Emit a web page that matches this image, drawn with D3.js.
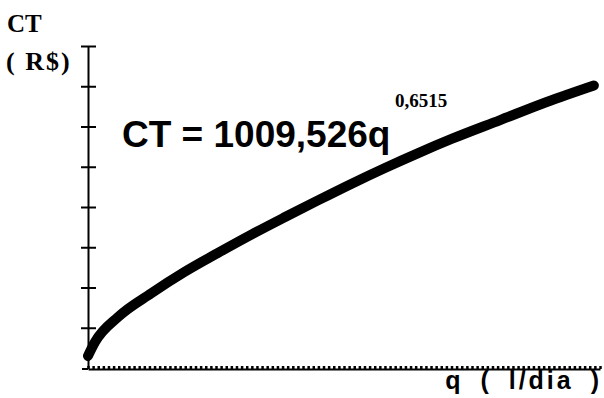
<!DOCTYPE html>
<html>
<head>
<meta charset="utf-8">
<script src="https://cdn.jsdelivr.net/npm/d3@7"></script>
<style>
  body { margin: 0; background: #fff; }
  svg { display: block; }
</style>
</head>
<body>
<div id="chart"></div>
<script>
// values (axis has no numbers, units = tick steps)
var qValues  = [0, 1.4, 5.9, 12.4, 18.9, 25.4, 32.0, 38.5, 45.0, 51.5, 58.0, 64.5, 71.0, 80.5, 89.6, 98.8];
var ctValues = [0.3, 0.65, 1.27, 1.86, 2.39, 2.86, 3.32, 3.75, 4.17, 4.58, 4.97, 5.34, 5.69, 6.16, 6.61, 7.02];
var yTicks = [1, 2, 3, 4, 5, 6, 7, 8];

var width = 604, height = 398;

var svg = d3.select("#chart").append("svg")
    .attr("width", width)
    .attr("height", height);

var x = d3.scaleLinear().domain([0, 100]).range([88, 600]);
var y = d3.scaleLinear().domain([0, 8]).range([368, 46]);

// x axis: comb of tiny ticks
var xAxis = svg.append("g")
    .attr("transform", "translate(0," + 369 + ")")
    .call(d3.axisBottom(x).tickValues(d3.range(0, 101, 1)).tickSize(-3).tickSizeOuter(0).tickFormat(""));
xAxis.select(".domain").attr("stroke", "#000").attr("stroke-width", 2);
xAxis.selectAll(".tick line").attr("stroke", "#000").attr("stroke-width", 2.5);
svg.append("line")
    .attr("x1", 82).attr("x2", 88)
    .attr("y1", 369).attr("y2", 369)
    .attr("stroke", "#000").attr("stroke-width", 2);

// y axis, ticks crossing both sides
var yl = svg.append("g")
    .attr("transform", "translate(88,0)")
    .call(d3.axisLeft(y).tickValues(yTicks).tickSize(7).tickSizeOuter(0).tickFormat(""));
var yr = svg.append("g")
    .attr("transform", "translate(88,0)")
    .call(d3.axisRight(y).tickValues(yTicks).tickSize(8).tickSizeOuter(0).tickFormat(""));
yl.select(".domain").attr("stroke", "#000").attr("stroke-width", 2);
yr.select(".domain").remove();
yl.selectAll(".tick line").attr("stroke", "#000").attr("stroke-width", 2);
yr.selectAll(".tick line").attr("stroke", "#000").attr("stroke-width", 2);

// the curve
var pts = qValues.map(function(q, i){ return [q, ctValues[i]]; });
var line = d3.line()
    .x(function(d){ return x(d[0]); })
    .y(function(d){ return y(d[1]); })
    .curve(d3.curveMonotoneX);

svg.append("path")
    .attr("d", line(pts))
    .attr("fill", "none")
    .attr("stroke", "#000")
    .attr("stroke-width", 10)
    .attr("stroke-linecap", "round")
    .attr("stroke-linejoin", "round");

// axis titles
svg.append("text")
    .attr("x", 7).attr("y", 32)
    .attr("font-family", "Liberation Serif, Times New Roman, serif")
    .attr("font-weight", "bold")
    .attr("font-size", 25)
    .text("CT");
svg.append("text")
    .attr("x", 6).attr("y", 70)
    .attr("font-family", "Liberation Serif, Times New Roman, serif")
    .attr("font-weight", "bold")
    .attr("font-size", 26)
    .attr("letter-spacing", 2)
    .text("( R$)");

svg.append("text")
    .attr("x", 602).attr("y", 389)
    .attr("text-anchor", "end")
    .attr("font-family", "Liberation Sans, Arial, sans-serif")
    .attr("font-weight", "bold")
    .attr("font-size", 25)
    .attr("letter-spacing", 3)
    .attr("word-spacing", 7)
    .text("q ( l/dia )");

// equation
svg.append("text")
    .attr("x", 122).attr("y", 147)
    .attr("font-family", "Liberation Sans, Arial, sans-serif")
    .attr("font-weight", "bold")
    .attr("font-size", 37)
    .text("CT = 1009,526q");
svg.append("text")
    .attr("x", 395).attr("y", 107)
    .attr("font-family", "Liberation Serif, Times New Roman, serif")
    .attr("font-weight", "bold")
    .attr("font-size", 19)
    .text("0,6515");
</script>
</body>
</html>
